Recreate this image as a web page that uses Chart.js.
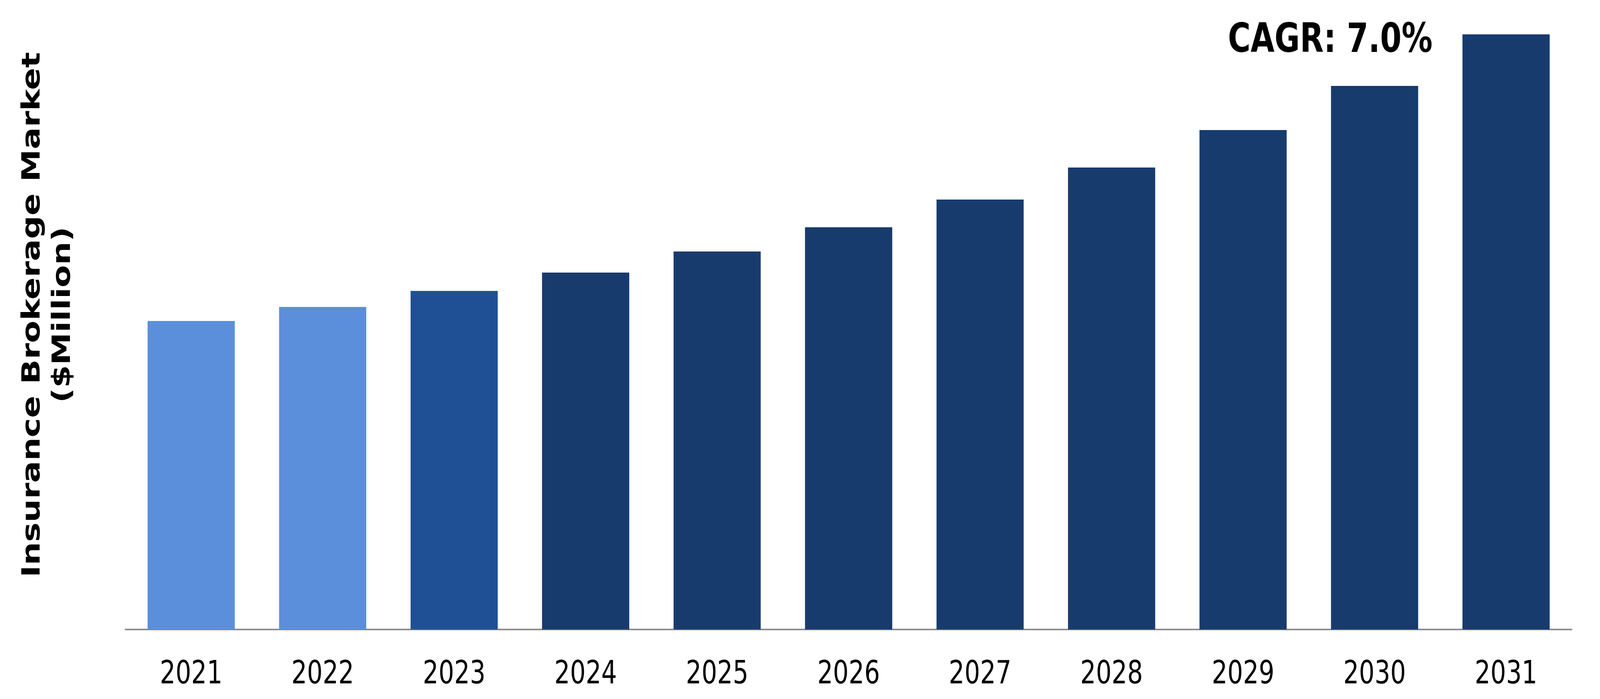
<!DOCTYPE html>
<html>
<head>
<meta charset="utf-8">
<script src="https://cdn.jsdelivr.net/npm/chart.js@4.4.1/dist/chart.umd.min.js"></script>
<style>
  html, body { margin: 0; padding: 0; background: #ffffff; overflow: hidden; }
  #wrap { position: absolute; left: 0; top: 0; width: 5332px; height: 1790px; transform-origin: 0 0; }
</style>
</head>
<body>
<div id="wrap"><canvas id="c"></canvas></div>
<script>
// ---- data (arbitrary units) ----
const years = ['2021', '2022', '2023', '2024', '2025', '2026', '2027', '2028', '2029', '2030', '2031'];
const marketValues = [790, 826, 867, 914, 968, 1030, 1101, 1183, 1279, 1392, 1524];
const yAxisTitle = ['Insurance Brokerage Market', '($Million)'];
const cagrLabel = 'CAGR: 7.0%';

// ---- styles ----
const barColors = ['#5B8FDB', '#5B8FDB', '#1F5096', '#183B6E', '#183B6E', '#183B6E',
                   '#183B6E', '#183B6E', '#183B6E', '#183B6E', '#183B6E'];

// the chart is laid out on a 5332 x 1790 surface; fit it into the actual window
const wrap = document.getElementById('wrap');
wrap.style.transform = 'scale(' + (window.innerWidth / 5332) + ',' + (window.innerHeight / 1790) + ')';

const cagrPlugin = {
  id: 'cagr',
  afterDraw(chart) {
    const ctx = chart.ctx;
    ctx.save();
    ctx.font = 'bold 103px "DejaVu Sans"';
    ctx.fillStyle = '#000000';
    ctx.textAlign = 'left';
    ctx.textBaseline = 'alphabetic';
    ctx.fillText(cagrLabel, 4092, 133);
    ctx.restore();
  }
};

new Chart(document.getElementById('c'), {
  type: 'bar',
  data: {
    labels: years,
    datasets: [{
      data: marketValues,
      backgroundColor: barColors,
      borderWidth: 0,
      categoryPercentage: 1.0,
      barPercentage: 0.663
    }]
  },
  options: {
    responsive: true,
    maintainAspectRatio: false,
    devicePixelRatio: 1,
    animation: false,
    layout: { padding: { left: 0, right: 94, top: 0, bottom: 0 } },
    plugins: { legend: { display: false }, tooltip: { enabled: false }, title: { display: false } },
    scales: {
      x: {
        z: 1,
        grid: { display: false, drawTicks: false },
        border: { display: true, color: '#8C8C8C', width: 4 },
        ticks: {
          color: '#000000',
          font: { family: 'DejaVu Sans', size: 82 },
          padding: 68,
          maxRotation: 0,
          autoSkip: false
        },
        afterFit(scale) { scale.height = 178; }
      },
      y: {
        min: 0,
        max: 1612,
        grid: { display: false, drawTicks: false },
        border: { display: false },
        ticks: { display: false },
        title: {
          display: true,
          text: yAxisTitle,
          color: '#000000',
          font: { family: 'DejaVu Sans', size: 84, weight: 'bold', lineHeight: 1.2 },
          padding: { top: 60, bottom: 0 }
        },
        afterFit(scale) { scale.width = 418; }
      }
    }
  },
  plugins: [cagrPlugin]
});
</script>
</body>
</html>
